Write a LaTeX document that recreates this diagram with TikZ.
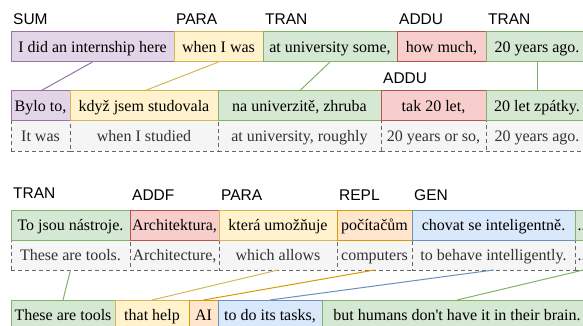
\documentclass[tikz,border=0pt]{standalone}
\usepackage{fontspec}
\setmainfont{Liberation Serif}
\setsansfont{Liberation Sans}
\usepackage{xcolor}
\usepackage{tikz}
\usetikzlibrary{positioning}

\definecolor{sumfill}{HTML}{E1D5E7}
\definecolor{sumline}{HTML}{9673A6}
\definecolor{parafill}{HTML}{FFF2CC}
\definecolor{paraline}{HTML}{D6B656}
\definecolor{tranfill}{HTML}{D5E8D4}
\definecolor{tranline}{HTML}{82B366}
\definecolor{addfill}{HTML}{F8CECC}
\definecolor{addline}{HTML}{B85450}
\definecolor{replfill}{HTML}{FFE6CC}
\definecolor{replline}{HTML}{D79B00}
\definecolor{genfill}{HTML}{DAE8FC}
\definecolor{genline}{HTML}{6C8EBF}
\definecolor{glossfill}{HTML}{F5F5F5}
\definecolor{glossline}{HTML}{666666}
\definecolor{glosstext}{HTML}{333333}

\tikzset{
  box/.style={draw, line width=1pt, outer sep=0pt, inner sep=0pt,
    minimum height=30pt, text height=14pt, text depth=3pt,
    font=\fontsize{16}{19}\selectfont},
  sumbox/.style={box, fill=sumfill, draw=sumline},
  parabox/.style={box, fill=parafill, draw=paraline},
  tranbox/.style={box, fill=tranfill, draw=tranline},
  addbox/.style={box, fill=addfill, draw=addline},
  replbox/.style={box, fill=replfill, draw=replline},
  genbox/.style={box, fill=genfill, draw=genline},
  glossbox/.style={box, fill=glossfill, draw=glossline, dash pattern=on 4pt off 3pt, text=glosstext},
  lbl/.style={inner sep=0pt, font=\sffamily\fontsize{15.5}{18}\selectfont},
  link/.style={line width=1pt},
}

\begin{document}
\begin{tikzpicture}[x=1pt, y=-1pt, node distance=0pt]
\useasboundingbox (0,0) rectangle (583,326);
\clip (0,0) rectangle (583,326);
%%%%%%%%%%%%%%
\node[sumbox, minimum width=163pt, anchor=north west] (e1) at (11,32) {I did an internship here};
\node[parabox, minimum width=89pt, right=of e1] (e2) {when I was};
\node[tranbox, minimum width=134pt, right=of e2] (e3) {at university some,};
\node[addbox, minimum width=89pt, right=of e3] (e4) {how much,};
\node[tranbox, minimum width=102pt, right=of e4] (e5) {20 years ago.};
%%%%%%%%%%%%%%
\node[glossbox, minimum width=59pt, anchor=north west] (g1) at (11,121) {It was};
\node[glossbox, minimum width=148pt, right=of g1] (g2) {when I studied};
\node[glossbox, minimum width=163pt, right=of g2] (g3) {at university, roughly};
\node[glossbox, minimum width=105pt, right=of g3] (g4) {20 years or so,};
\node[glossbox, minimum width=102pt, right=of g4] (g5) {20 years ago.};
\node[sumbox, minimum width=59pt, above=of g1] (c1) {Bylo to,};
\node[parabox, minimum width=148pt, above=of g2] (c2) {když jsem studovala};
\node[tranbox, minimum width=163pt, above=of g3] (c3) {na univerzitě, zhruba};
\node[addbox, minimum width=105pt, above=of g4] (c4) {tak 20 let,};
\node[tranbox, minimum width=102pt, above=of g5] (c5) {20 let zpátky.};
%%%%%%%%%%%%%%
\node[lbl, above right=7pt and 2pt of e1.north west] (t1) {SUM};
\node[lbl, above right=7pt and 2pt of e2.north west] (t2) {PARA};
\node[lbl, above right=7pt and 2pt of e3.north west] (t3) {TRAN};
\node[lbl, above right=7pt and 2pt of e4.north west] (t4) {ADDU};
\node[lbl, above right=7pt and 2pt of e5.north west] (t5) {TRAN};
\node[lbl, above right=7pt and 2pt of c4.north west] (t6) {ADDU};

\draw[link, sumline] (e1.south) -- (c1.north);
\draw[link, paraline] (e2.south) -- (c2.north);
\draw[link, tranline] (e3.south) -- (c3.north);
\draw[link, tranline] (e5.south) -- (c5.north);
%%%%%%%%%%%%%%%%%%%%%%%%%%%%%%%%%%%%%%%%%%
\node[glossbox, minimum width=119pt, anchor=north west] (h1) at (11,240) {These are tools.};
\node[glossbox, minimum width=89pt, right=of h1] (h2) {Architecture,};
\node[glossbox, minimum width=118pt, right=of h2] (h3) {which allows};
\node[glossbox, minimum width=75pt, right=of h3] (h4) {computers};
\node[glossbox, minimum width=163pt, right=of h4] (h5) {to behave intelligently.};
\node[glossbox, minimum width=17pt, right=of h5] (h6) {...};
\node[tranbox, minimum width=119pt, above=of h1] (d1) {To jsou nástroje.};
\node[addbox, minimum width=89pt, above=of h2] (d2) {Architektura,};
\node[parabox, minimum width=118pt, above=of h3] (d3) {která umožňuje};
\node[replbox, minimum width=75pt, above=of h4] (d4) {počítačům};
\node[genbox, minimum width=163pt, above=of h5] (d5) {chovat se inteligentně.};
\node[tranbox, minimum width=17pt, above=of h6] (d6) {...};
%%%%%%%%%%%%%%
\node[tranbox, minimum width=104pt, anchor=north west] (f1) at (11,300) {These are tools};
\node[parabox, minimum width=74pt, right=of f1] (f2) {that help};
\node[replbox, minimum width=29pt, right=of f2] (f3) {AI};
\node[genbox, minimum width=104pt, right=of f3] (f4) {to do its tasks,};
\node[tranbox, minimum width=270pt, right=of f4] (f5) {but humans don\textquotesingle t have it in their brain.};
%%%%%%%%%%%%%%
\node[lbl, above right=11pt and 2pt of d1.north west] (s1) {TRAN};
\node[lbl, above right=9pt and 2pt of d2.north west] (s2) {ADDF};
\node[lbl, above right=9pt and 2pt of d3.north west] (s3) {PARA};
\node[lbl, above right=9pt and 2pt of d4.north west] (s4) {REPL};
\node[lbl, above right=9pt and 2pt of d5.north west] (s5) {GEN};

\draw[link, tranline] (h1.south) -- (f1.north);
\draw[link, paraline] (h3.south) -- (f2.north);
\draw[link, replline] (h4.south) -- (f3.north);
\draw[link, genline] (h5.south) -- (f4.north);
\draw[link, tranline] (h6.south) -- (f5.north);

\end{tikzpicture}
\end{document}
